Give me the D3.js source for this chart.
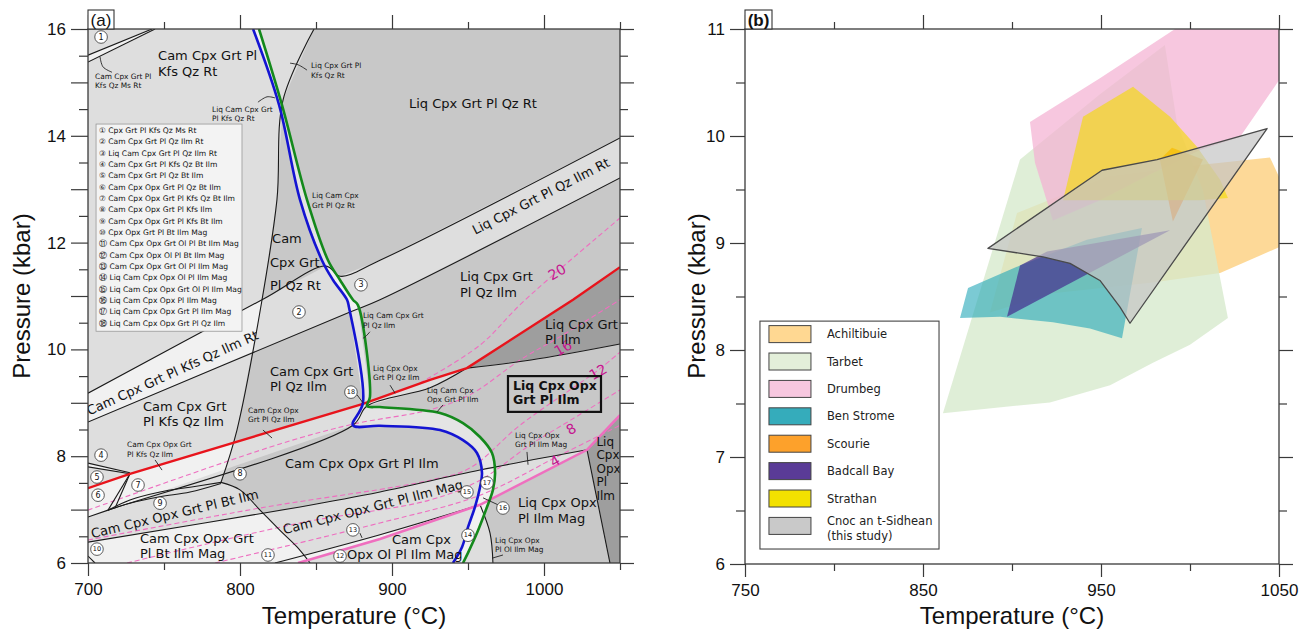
<!DOCTYPE html>
<html>
<head>
<meta charset="utf-8">
<script src="https://cdn.jsdelivr.net/npm/d3@7/dist/d3.min.js"></script>
<style>
  body { margin: 0; background: #fff; }
  svg { display: block; }
  .ax line { stroke: #3a3a3a; stroke-width: 1.2; }
  .ax text { font-family: "Liberation Sans", Arial, sans-serif; font-size: 17px; fill: #111; }
  .lbl { font-family: "DejaVu Sans", Verdana, sans-serif; fill: #111; }
  .ttl { font-family: "Liberation Sans", Arial, sans-serif; fill: #111; }
</style>
</head>
<body>
<svg id="chart" width="1309" height="633"></svg>
<script>
// ---------- panel (a): pseudosection, T in °C, P in kbar ----------
const solidus = [[808.6,16],[825.7,14.58],[839.5,12.80],[853.9,11.67],[861.2,11.30],[870.4,10.93],[871.7,10.79],[880.9,9.0],[874.3,8.58],[892.1,8.57],[931.6,8.49],[946.7,8.30],[955.9,8.06],[959.2,7.69],[957.9,7.42],[954.6,7.05],[950.0,6.67],[946.1,6.30],[940.1,6.0]];
const camOut = [[812.5,16],[827.6,14.58],[844.1,12.80],[857.9,11.67],[865.8,11.30],[874.3,10.93],[877.6,10.83],[885.5,9.11],[883.6,8.94],[892.1,8.92],[931.6,8.81],[946.7,8.62],[957.9,8.36],[965.8,8.06],[967.8,7.69],[966.4,7.37],[962.5,7.05],[955.9,6.56],[950.0,6.19],[946.7,6.0]];
const redLine = [[700,7.40],[727.6,7.67],[880.9,8.98],[925,9.43],[949.3,9.65],[1019.1,10.93],[1050,11.54]];
const grtOut = [[838.2,6.0],[892.1,6.45],[957.9,7.09],[1028.3,8.12],[1050,8.77]];

const kfsLine = [[848.7,16],[828.3,14.67],[824.3,12.80],[814.5,10.93],[798.0,8.49],[787.5,7.51]];
const bandUpper = [[700,9.18],[814.5,10.93],[856.6,11.56],[865.8,11.37],[892.1,11.67],[1050,13.96]];
const bandLower = [[700,8.64],[872.4,10.70],[892.1,10.93],[1050,13.21]];
const qzOut = [[700,6.86],[713.2,6.99],[874.3,8.58],[883.6,8.94],[925,9.28],[949.3,9.65]];
const opxIn = [[949.3,9.65],[991.4,9.80],[1050,10.10]];
const btOut = [[787.5,7.51],[800,7.37],[813.2,6.99],[826.3,6.61],[837.5,6.30],[846.1,6.0]];
const magIn = [[700,6.39],[839.5,7.05],[892.1,7.33],[957.9,7.74],[1028.3,8.12]];
const olIn = [[823,6.0],[892.1,6.53],[957.9,7.09]];
const olOut = [[957.9,7.09],[964.5,6.56],[966.4,6.0]];
const plIlmLine = [[1028.3,8.12],[1043.4,6.0]];
const band1a = [[700,15.51],[742.1,16]];
const band1b = [[700,15.38],[744.1,16]];
const band4a = [[700,7.87],[727.6,7.69]];
const band4b = [[700,7.80],[727.6,7.67]];
const wedge7a = [[727.6,7.67],[713.2,6.99]];
const wedge7b = [[727.6,7.67],[717.8,7.03]];
const curve9a = [[713.2,6.99],[727.6,7.18],[747.4,7.33],[767.1,7.42],[787.5,7.51]];
const curve9b = [[713.2,6.99],[727.6,7.12],[747.4,7.24],[767.1,7.33],[787.5,7.49]];
const curve10 = [[700,6.13],[704.6,6.0]];

// fields by number of phases (5 dark ... 8 pale)
const fields6 = [
  [[848.7,16],[828.3,14.67],[824.3,12.80],[814.5,10.93],[856.6,11.56],[865.8,11.37],[892.1,11.67],[1050,13.96],[1050,16]],
  [[807.9,9.95],[798.0,8.49],[795.4,8.25],[880.9,8.98],[925,9.43],[949.3,9.65],[1019.1,10.93],[1050,11.54],[1050,13.21],[892.1,10.93],[872.4,10.70]],
  [[790.8,7.76],[874.3,8.58],[883.6,8.94],[925,9.28],[949.3,9.65],[991.4,9.80],[1050,10.10],[1050,8.77],[1028.3,8.12],[957.9,7.74],[892.1,7.33],[839.5,7.05],[815.1,6.93],[813.2,6.99],[800,7.37],[787.5,7.51]],
  [[957.9,7.09],[964.5,6.56],[966.4,6.0],[1043.4,6.0],[1028.3,8.12]]
];
const fields5 = [
  [[949.3,9.65],[1019.1,10.93],[1050,11.54],[1050,10.10],[991.4,9.80]],
  [[1028.3,8.12],[1050,8.77],[1050,6],[1043.4,6]]
];
const fields8 = [
  [[700,15.51],[742.1,16],[744.1,16],[700,15.38]],
  [[700,9.18],[814.5,10.93],[807.9,9.95],[700,8.64]],
  [[727.6,7.67],[795.4,8.25],[790.8,7.76],[713.2,6.99]],
  [[700,7.40],[727.6,7.67],[713.2,6.99],[700,6.86]],
  [[700,7.87],[727.6,7.69],[700,7.80]],
  [[700,6.39],[815.1,6.93],[826.3,6.61],[837.5,6.30],[846.1,6.0],[700,6.0]],
  [[838.2,6.0],[892.1,6.45],[957.9,7.09],[892.1,6.53],[823,6.0]]
];

// Grt isopleths
const isopleths = [
  [[918.4,9.37],[957.9,10.08],[986.2,10.89],[1050,12.46]],
  [[700,6.99],[826.3,8.23],[874.3,8.60],[925,8.87],[951.3,9.15],[984.2,9.80],[1012.5,10.27],[1050,10.93]],
  [[700,6.43],[813.2,7.03],[925,7.55],[951.3,7.78],[984.2,8.58],[1035.5,9.61],[1050,9.95]],
  [[725.7,6.0],[839.5,6.75],[925,7.18],[957.9,7.55],[990.8,8.21],[1017.8,8.68],[1050,9.24]],
  [[783.6,6.0],[892.1,6.75],[957.9,7.27],[1007.2,7.97],[1050,8.58]]
];
const isoLabels = [['20',1008.6,11.45],['16',1012.5,10.03],['12',1035.5,9.58],['8',1017.8,8.51],['4',1007.2,7.91]];

// field names, big type: [text, T, P]
const bigLabels = [
  ['Cam Cpx Grt Pl',746.1,15.42],['Kfs Qz Rt',746.1,15.12],
  ['Liq Cpx Grt Pl Qz Rt',911.2,14.52],
  ['Cam',821.1,11.99],['Cpx Grt',819.7,11.54],['Pl Qz Rt',819.7,11.11],
  ['Liq Cpx Grt',944.7,11.28],['Pl Qz Ilm',944.7,10.98],
  ['Liq Cpx Grt',1000.7,10.38],['Pl Ilm',1000.7,10.10],
  ['Cam Cpx Grt',736.2,8.85],['Pl Kfs Qz Ilm',736.2,8.57],
  ['Cam Cpx Grt',819.7,9.50],['Pl Qz Ilm',819.7,9.22],
  ['Cam Cpx Opx Grt Pl Ilm',829.6,7.78],
  ['Cam Cpx Opx Grt',734.2,6.37],['Pl Bt Ilm Mag',734.2,6.09],
  ['Cam Cpx',900,6.36],['Opx Ol Pl Ilm Mag',870.4,6.07],
  ['Liq Cpx Opx',982.9,7.05],['Pl Ilm Mag',982.9,6.75]
];
const stackLabel = [['Liq',1034.5,8.19],['Cpx',1034.5,7.95],['Opx',1034.5,7.69],['Pl',1034.5,7.44],['Ilm',1034.5,7.18]];
const boldLabel = [['Liq Cpx Opx',979.6,9.24],['Grt Pl Ilm',979.6,8.98]];
const boldBox = [[976.3,9.50],[1037.5,8.83]];
// rotated labels: [text, T, P, angle]
const bandLabels = [
  ['Liq Cpx Grt Pl Qz Ilm Rt',998.0,12.87,-27],
  ['Cam Cpx Grt Pl Kfs Qz Ilm Rt',755.5,9.56,-24.4],
  ['Cam Cpx Opx Grt Pl Bt Ilm',757.0,6.92,-13.4],
  ['Cam Cpx Opx Grt Pl Ilm Mag',887.5,7.05,-14.3]
];
const smallLabels = [
  ['Cam Cpx Grt Pl',704.6,15.06],['Kfs Qz Ms Rt',704.6,14.90],
  ['Liq Cpx Grt Pl',846.7,15.27],['Kfs Qz Rt',846.7,15.08],
  ['Liq Cam Cpx Grt',781.6,14.45],['Pl Kfs Qz Rt',781.6,14.28],
  ['Liq Cam Cpx',847.4,12.84],['Grt Pl Qz Rt',847.4,12.65],
  ['Liq Cam Cpx Grt',880.9,10.59],['Pl Qz Ilm',880.9,10.40],
  ['Liq Cpx Opx',887.5,9.60],['Grt Pl Qz Ilm',887.5,9.43],
  ['Liq Cam Cpx',923,9.18],['Opx Grt Pl Ilm',923,9.01],
  ['Cam Cpx Opx Grt',725.7,8.17],['Pl Kfs Qz Ilm',725.7,7.99],
  ['Cam Cpx Opx',805.3,8.81],['Grt Pl Qz Ilm',805.3,8.64],
  ['Liq Cpx Opx',980.9,8.34],['Grt Pl Ilm Mag',980.9,8.17],
  ['Liq Cpx Opx',967.8,6.37],['Pl Ol Ilm Mag',967.8,6.21]
];
const pointers = [
  [[707.9,15.48],[709.9,15.29],[715.8,15.19]],
  [[832.9,15.36],[838.2,15.33],[844.1,15.23]],
  [[811.8,14.63],[817.8,14.73],[823,14.71]],
  [[885.5,10.33],[882.2,10.23],[880.9,10.21]],
  [[898.7,9.33],[902,9.18]],
  [[933.6,8.96],[929.6,8.83]],
  [[744.1,7.93],[748.7,7.74]],
  [[815.1,8.49],[821.1,8.34]],
  [[988.8,8.08],[989.5,7.84]],
  [[973,6.15],[965.8,6.09]],
  [[878.9,6.56],[880.3,6.47]],
  [[969.7,7.09],[959.9,7.22]],
  [[877,9.15],[880.9,9.0]]
];
const markers = [[1,708.6,15.85],[2,838.8,10.70],[3,879.6,11.21],[4,708.6,8.02],[5,705.9,7.61],[6,706.6,7.27],[7,732.9,7.46],[8,800,7.67],[9,747.4,7.12],[10,705.9,6.26],[11,818.4,6.15],[12,865.8,6.13],[13,874.3,6.62],[14,950,6.52],[15,949.3,7.33],[16,973.0,7.03],[17,962.5,7.50],[18,873.0,9.20]];
const keyNames = ['Cpx Grt Pl Kfs Qz Ms Rt','Cam Cpx Grt Pl Qz Ilm Rt','Liq Cam Cpx Grt Pl Qz Ilm Rt','Cam Cpx Grt Pl Kfs Qz Bt Ilm','Cam Cpx Grt Pl Qz Bt Ilm','Cam Cpx Opx Grt Pl Qz Bt Ilm','Cam Cpx Opx Grt Pl Kfs Qz Bt Ilm','Cam Cpx Opx Grt Pl Kfs Ilm','Cam Cpx Opx Grt Pl Kfs Bt Ilm','Cpx Opx Grt Pl Bt Ilm Mag','Cam Cpx Opx Grt Ol Pl Bt Ilm Mag','Cam Cpx Opx Ol Pl Bt Ilm Mag','Cam Cpx Opx Grt Ol Pl Ilm Mag','Liq Cam Cpx Opx Ol Pl Ilm Mag','Liq Cam Cpx Opx Grt Ol Pl Ilm Mag','Liq Cam Cpx Opx Pl Ilm Mag','Liq Cam Cpx Opx Grt Pl Ilm Mag','Liq Cam Cpx Opx Grt Pl Qz Ilm'];
const keyBox = [[705.3,14.22],[801.3,10.34]];
const circled = '①②③④⑤⑥⑦⑧⑨⑩⑪⑫⑬⑭⑮⑯⑰⑱';

// ---------- panel (b): P-T estimates ----------
const localities = ['Achiltibuie','Tarbet','Drumbeg','Ben Strome','Scourie','Badcall Bay','Strathan','Cnoc an t-Sidhean'];
const achiltibuie = [[902.8,9.28],[953.4,9.62],[1000,9.72],[1044.9,9.80],[1050,9.62],[1050,8.96],[1016.9,8.72],[979.2,8.63],[923,8.53],[887.6,8.35]];
const tarbet = [[861.2,7.41],[904.5,9.78],[949.4,10.39],[985.9,10.85],[992.7,10.12],[1007.3,9.49],[1021.3,8.30],[1000,8.05],[979.2,7.88],[955.1,7.67],[921.3,7.51]];
const drumbeg = [[910.1,10.13],[949.4,10.54],[991.6,11.0],[1050,11.0],[1050,10.52],[1028.1,9.99],[1005.6,9.87],[977.5,9.64],[949.4,9.40],[923,9.21],[912.9,9.75]];
const benStrome = [[875.3,8.58],[904.5,8.79],[942.1,9.03],[973,9.14],[961.8,8.11],[943.8,8.20],[923,8.26],[893.3,8.31],[870.8,8.30]];
const scourie = [[983.1,9.78],[989.9,9.89],[1007.3,9.78],[990.4,9.20]];
const badcallBay = [[897.2,8.31],[904.5,8.79],[919.7,8.92],[988.8,9.12]];
const strathan = [[939.9,10.18],[968,10.46],[988.8,10.18],[1003.9,9.90],[1016.9,9.59],[1021.3,9.42],[1005.6,9.40],[960,9.40],[928.7,9.40]];
const cnoc = [[886.5,8.95],[950.6,9.68],[981.5,9.78],[1043.3,10.07],[966.3,8.25],[960.7,8.40],[949.4,8.65],[932.6,8.81],[917.4,8.87]];
const legendBox = [[758.4,8.27],[859.0,6.14]];

const svg = d3.select('#chart');
const xa = d3.scaleLinear().domain([700, 1050]).range([88, 620]);
const ya = d3.scaleLinear().domain([6, 16]).range([563, 29]);
const xb = d3.scaleLinear().domain([750, 1050]).range([745, 1279]);
const yb = d3.scaleLinear().domain([6, 11]).range([564, 29]);

const C5 = '#9e9e9e', C6 = '#c8c8c8', C7 = '#dedede', C8 = '#f1f1f1';

function axes(x, y, o) {
  const [x0, x1] = x.range(), [y0, y1] = y.range();
  const ax = (gen, tr) => svg.append('g').attr('class', 'ax').attr('transform', tr)
    .call(gen).call(s => s.select('.domain').remove());
  ax(d3.axisBottom(x).tickValues(o.xMajor).tickSize(13).tickPadding(7).tickFormat(d3.format('d')), `translate(0,${y0})`);
  ax(d3.axisBottom(x).tickValues(o.xMinor).tickSize(7).tickFormat(''), `translate(0,${y0})`);
  ax(d3.axisTop(x).tickValues(o.xMajor).tickSize(14).tickFormat(''), `translate(0,${y1})`);
  ax(d3.axisTop(x).tickValues(o.xMinor).tickSize(7).tickFormat(''), `translate(0,${y1})`);
  ax(d3.axisLeft(y).tickValues(o.yLabel).tickSize(o.yLong).tickPadding(5).tickFormat(d3.format('d')), `translate(${x0},0)`);
  ax(d3.axisLeft(y).tickValues(o.yMid).tickSize(o.yLong).tickFormat(''), `translate(${x0},0)`);
  ax(d3.axisLeft(y).tickValues(o.yMinor).tickSize(9).tickFormat(''), `translate(${x0},0)`);
  ax(d3.axisRight(y).tickValues(o.yLabel.concat(o.yMid)).tickSize(14).tickFormat(''), `translate(${x1},0)`);
  ax(d3.axisRight(y).tickValues(o.yMinor).tickSize(8).tickFormat(''), `translate(${x1},0)`);
  svg.append('rect').attr('x', x0).attr('y', y1).attr('width', x1 - x0).attr('height', y0 - y1)
    .attr('fill', 'none').attr('stroke', '#3a3a3a').attr('stroke-width', 1.3);
}

// ================= panel (a) =================
const la = d3.line().x(d => xa(d[0])).y(d => ya(d[1]));
const lac = d3.line().x(d => xa(d[0])).y(d => ya(d[1])).curve(d3.curveCatmullRom.alpha(0.5));
const poly = d => la(d) + 'Z';

const defs = svg.append('defs');
defs.append('clipPath').attr('id', 'clipA').append('rect')
  .attr('x', 88).attr('y', 29).attr('width', 532).attr('height', 534);
defs.append('clipPath').attr('id', 'clipStrip').append('path')
  .attr('d', la(solidus.concat(camOut.slice().reverse())) + 'Z');
defs.append('clipPath').attr('id', 'clipB').append('rect')
  .attr('x', 745).attr('y', 29).attr('width', 534).attr('height', 535);

const ga = svg.append('g').attr('clip-path', 'url(#clipA)');
ga.append('rect').attr('x', 88).attr('y', 29).attr('width', 532).attr('height', 534).attr('fill', C7);
ga.selectAll('.f6').data(fields6).join('path').attr('d', poly).attr('fill', C6);
ga.selectAll('.f5').data(fields5).join('path').attr('d', poly).attr('fill', C5);
ga.selectAll('.f8').data(fields8).join('path').attr('d', poly).attr('fill', C8);

// Liq + Cam strip between solidus and Cam-out
const gs = ga.append('g').attr('clip-path', 'url(#clipStrip)');
gs.append('rect').attr('x', 88).attr('y', 29).attr('width', 532).attr('height', 534).attr('fill', '#e4e4e4');
gs.append('path').attr('d', poly(bandUpper.concat(bandLower.slice().reverse()))).attr('fill', C8);
gs.append('path').attr('d', poly([[700,14.6],[1050,14.6],[1050,16],[700,16]])).attr('fill', C8);
gs.append('path').attr('d', poly(magIn.concat([[1050,8.2],[1050,6],[700,6]]))).attr('fill', C8);

// isopleths
ga.selectAll('.iso').data(isopleths).join('path').attr('d', lac)
  .attr('fill', 'none').attr('stroke', '#ee6fc0').attr('stroke-width', 1.1).attr('stroke-dasharray', '5,3');

// black boundaries
const blackLines = [kfsLine, bandUpper, bandLower, qzOut, opxIn, btOut, magIn, olIn, olOut, plIlmLine,
  band1a, band1b, band4a, band4b, wedge7a, wedge7b, curve9a, curve9b, curve10];
ga.selectAll('.bl').data(blackLines).join('path').attr('d', lac)
  .attr('fill', 'none').attr('stroke', '#1a1a1a').attr('stroke-width', 1.1);

ga.append('path').attr('d', la(grtOut)).attr('fill', 'none').attr('stroke', '#ef6fbf').attr('stroke-width', 2.6);
ga.append('path').attr('d', la(redLine)).attr('fill', 'none').attr('stroke', '#e8141c').attr('stroke-width', 2.4);
ga.append('path').attr('d', lac(solidus)).attr('fill', 'none').attr('stroke', '#1414d2').attr('stroke-width', 2.6);
ga.append('path').attr('d', lac(camOut)).attr('fill', 'none').attr('stroke', '#14891c').attr('stroke-width', 2.6);

// leaders
ga.selectAll('.ptr').data(pointers).join('path').attr('d', lac)
  .attr('fill', 'none').attr('stroke', '#222').attr('stroke-width', 0.9);

// isopleth labels
ga.selectAll('.isol').data(isoLabels).join('text')
  .attr('transform', d => `translate(${xa(d[1])},${ya(d[2])}) rotate(-30)`)
  .attr('text-anchor', 'middle').attr('dominant-baseline', 'central')
  .attr('class', 'lbl').style('fill', '#c4168f').style('font-size', '14px').text(d => d[0]);

// field names
ga.selectAll('.big').data(bigLabels).join('text').attr('class', 'lbl')
  .attr('x', d => xa(d[1])).attr('y', d => ya(d[2])).style('font-size', '13px').text(d => d[0]);
ga.selectAll('.stack').data(stackLabel).join('text').attr('class', 'lbl')
  .attr('x', d => xa(d[1])).attr('y', d => ya(d[2])).style('font-size', '12px').text(d => d[0]);
ga.selectAll('.band').data(bandLabels).join('text').attr('class', 'lbl')
  .attr('transform', d => `translate(${xa(d[1])},${ya(d[2])}) rotate(${d[3]})`)
  .attr('text-anchor', 'middle').attr('dominant-baseline', 'central')
  .style('font-size', '13px').text(d => d[0]);
ga.selectAll('.small').data(smallLabels).join('text').attr('class', 'lbl')
  .attr('x', d => xa(d[1])).attr('y', d => ya(d[2])).style('font-size', '7.4px').text(d => d[0]);

ga.append('rect').attr('x', xa(boldBox[0][0])).attr('y', ya(boldBox[0][1]))
  .attr('width', xa(boldBox[1][0]) - xa(boldBox[0][0])).attr('height', ya(boldBox[1][1]) - ya(boldBox[0][1]))
  .attr('fill', 'none').attr('stroke', '#111').attr('stroke-width', 2.2);
ga.selectAll('.bold').data(boldLabel).join('text').attr('class', 'lbl')
  .attr('x', d => xa(d[1])).attr('y', d => ya(d[2])).style('font-size', '12.5px').style('font-weight', 'bold').text(d => d[0]);

// numbered markers
const mk = ga.selectAll('.mk').data(markers).join('g')
  .attr('transform', d => `translate(${xa(d[1])},${ya(d[2])})`);
mk.append('circle').attr('r', 6.3).attr('fill', '#fff').attr('stroke', '#333').attr('stroke-width', 0.8);
mk.append('text').attr('class', 'lbl').attr('text-anchor', 'middle').attr('dominant-baseline', 'central')
  .style('font-size', d => d[0] > 9 ? '6.5px' : '8px').text(d => d[0]);

// key of numbered fields
const kx0 = xa(keyBox[0][0]), ky0 = ya(keyBox[0][1]);
ga.append('rect').attr('x', kx0).attr('y', ky0)
  .attr('width', xa(keyBox[1][0]) - kx0).attr('height', ya(keyBox[1][1]) - ky0)
  .attr('fill', '#f3f3f3').attr('stroke', '#999').attr('stroke-width', 0.8);
ga.selectAll('.key').data(keyNames).join('text').attr('class', 'lbl')
  .attr('x', kx0 + 3).attr('y', (d, i) => ky0 + 6.3 + i * 11.35).attr('dominant-baseline', 'central')
  .style('font-size', '7.6px').text((d, i) => circled[i] + ' ' + d);

axes(xa, ya, { xMajor: [700, 800, 900, 1000], xMinor: [750, 850, 950, 1050],
  yLabel: [6, 8, 10, 12, 14, 16], yMid: [7, 9, 11, 13, 15],
  yMinor: d3.range(6.5, 16, 1), yLong: 17 });

svg.append('rect').attr('x', 88).attr('y', 10).attr('width', 26).attr('height', 19)
  .attr('fill', '#fff').attr('stroke', '#333').attr('stroke-width', 1.1);
svg.append('text').attr('class', 'ttl').attr('x', 101).attr('y', 25.5).attr('text-anchor', 'middle')
  .style('font-size', '17px').text('(a)');

// ================= panel (b) =================
const lb = d3.line().x(d => xb(d[0])).y(d => yb(d[1]));
const gb = svg.append('g').attr('clip-path', 'url(#clipB)');
const areas = [
  { d: achiltibuie, fill: '#fdd07e', op: 0.8 },
  { d: tarbet, fill: '#d6e9cc', op: 0.78 },
  { d: drumbeg, fill: '#f4b2d2', op: 0.72 },
  { d: benStrome, fill: '#23a7b8', op: 0.6 },
  { d: scourie, fill: '#fb9320', op: 0.85 },
  { d: badcallBay, fill: '#47308f', op: 0.72 },
  { d: strathan, fill: '#f3dc00', op: 0.62 },
  { d: cnoc, fill: '#c4c4c4', op: 0.7, stroke: '#4a4a4a' }
];
gb.selectAll('.pt').data(areas).join('path')
  .attr('d', a => lb(a.d) + 'Z').attr('fill', a => a.fill).attr('fill-opacity', a => a.op)
  .attr('stroke', a => a.stroke || 'none').attr('stroke-width', 1.3).attr('stroke-linejoin', 'round');

axes(xb, yb, { xMajor: [750, 850, 950, 1050], xMinor: [800, 900, 1000],
  yLabel: [6, 7, 8, 9, 10, 11], yMid: [], yMinor: d3.range(6.5, 11, 1), yLong: 15 });

svg.append('rect').attr('x', 745).attr('y', 10).attr('width', 27).attr('height', 19)
  .attr('fill', '#fff').attr('stroke', '#333').attr('stroke-width', 1.1);
svg.append('text').attr('class', 'ttl').attr('x', 758.5).attr('y', 25.5).attr('text-anchor', 'middle')
  .style('font-size', '17px').style('font-weight', 'bold').text('(b)');

// legend
const swatch = ['#ffd892', '#e3efd9', '#f7c7df', '#35acbb', '#fda12b', '#5a3b97', '#f3e100', '#c9c9c9'];
const lgx = xb(legendBox[0][0]), lgy = yb(legendBox[0][1]);
svg.append('rect').attr('x', lgx).attr('y', lgy)
  .attr('width', xb(legendBox[1][0]) - lgx).attr('height', yb(legendBox[1][1]) - lgy)
  .attr('fill', '#fff').attr('stroke', '#444').attr('stroke-width', 1.1);
const li = svg.selectAll('.li').data(localities).join('g')
  .attr('transform', (d, i) => `translate(${lgx + 9},${lgy + 13 + i * 27.4})`);
li.append('rect').attr('x', 0).attr('y', -8.5).attr('width', 42).attr('height', 17)
  .attr('fill', (d, i) => swatch[i]).attr('stroke', '#444').attr('stroke-width', 1);
li.append('text').attr('class', 'lbl').attr('x', 58).attr('y', d => d.startsWith('Cnoc') ? -5 : 0)
  .attr('dominant-baseline', 'central').style('font-size', '11.5px').style('fill', '#222')
  .text(d => d);
li.filter(d => d.startsWith('Cnoc')).append('text').attr('class', 'lbl').attr('x', 58).attr('y', 10)
  .attr('dominant-baseline', 'central').style('font-size', '11.5px').style('fill', '#222').text('(this study)');

// axis titles
[[354, 30], [1012, 705]].forEach(([cx, py]) => {
  svg.append('text').attr('class', 'ttl').attr('x', cx).attr('y', 624).attr('text-anchor', 'middle')
    .style('font-size', '24px').text('Temperature (°C)');
  svg.append('text').attr('class', 'ttl').attr('transform', `translate(${py},296) rotate(-90)`)
    .attr('text-anchor', 'middle').style('font-size', '24px').text('Pressure (kbar)');
});
</script>
</body>
</html>
